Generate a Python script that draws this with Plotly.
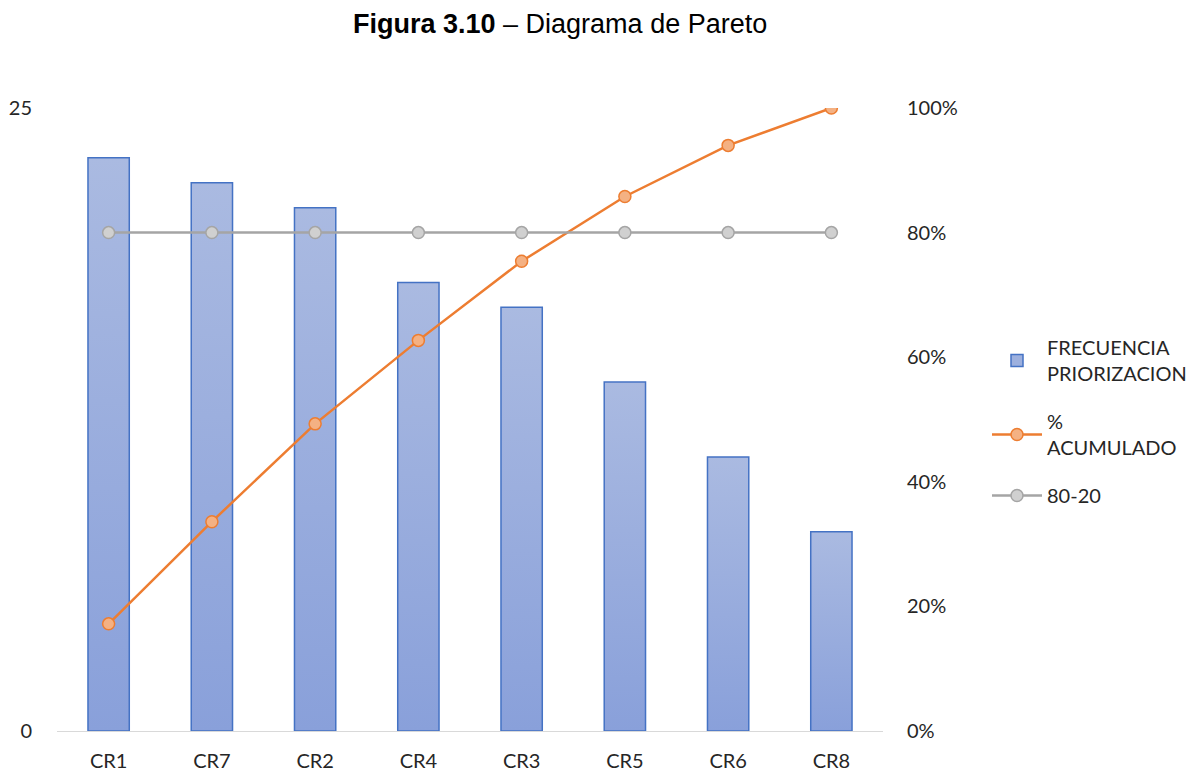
import base64
import plotly.graph_objects as go

# Pareto data
categorias = ["CR1", "CR7", "CR2", "CR4", "CR3", "CR5", "CR6", "CR8"]
frecuencia = [23, 22, 21, 18, 17, 14, 11, 8]
pct_acumulado = [0.172, 0.336, 0.493, 0.627, 0.754, 0.858, 0.940, 1.000]
linea_80_20 = [0.80] * 8

FONT = "Lato, 'Open Sans', sans-serif"
BAR_WIDTH = 0.4
BAR_EDGE = "#4472C4"
W, H = 1203, 775

# vertical gradient used as the bar fill (light at the top, darker at the base)
svg = (
    '<svg xmlns="http://www.w3.org/2000/svg" width="10" height="100" '
    'preserveAspectRatio="none" viewBox="0 0 10 100">'
    '<defs><linearGradient id="g" x1="0" y1="0" x2="0" y2="1">'
    '<stop offset="0" stop-color="#AABAE1"/>'
    '<stop offset="1" stop-color="#89A0DA"/>'
    '</linearGradient></defs>'
    '<rect width="10" height="100" fill="url(#g)"/></svg>'
)
grad_src = "data:image/svg+xml;base64," + base64.b64encode(svg.encode()).decode()

fig = go.Figure()

# bars: outline drawn by the trace, gradient fill by images beneath
fig.add_trace(go.Bar(
    x=categorias, y=frecuencia,
    name="FRECUENCIA<br>PRIORIZACION",
    marker=dict(color="rgba(0,0,0,0)", line=dict(color=BAR_EDGE, width=1.5)),
    width=BAR_WIDTH, yaxis="y", showlegend=False, legendgroup="frec",
))
# legend entry for the bars with a solid swatch
fig.add_trace(go.Bar(
    x=[None], y=[None],
    name="FRECUENCIA<br>PRIORIZACION",
    marker=dict(color="#9DB0DE", line=dict(color=BAR_EDGE, width=1.5)),
    yaxis="y", legendgroup="frec",
))

fig.add_trace(go.Scatter(
    x=categorias, y=pct_acumulado,
    name="%<br>ACUMULADO",
    mode="lines+markers",
    line=dict(color="#ED7D31", width=2.5),
    marker=dict(size=12, color="#F4B183", line=dict(color="#ED7D31", width=1.5)),
    yaxis="y2", legendgroup="acum",
))

fig.add_trace(go.Scatter(
    x=categorias, y=linea_80_20,
    name="80-20",
    mode="lines+markers",
    line=dict(color="#A5A5A5", width=2.5),
    marker=dict(size=12, color="#D0D0D0", line=dict(color="#A5A5A5", width=1.5)),
    yaxis="y2", legendgroup="ref",
))

images = []
for i, v in enumerate(frecuencia):
    images.append(dict(
        source=grad_src, xref="x", yref="y",
        x=i - BAR_WIDTH / 2, y=v, sizex=BAR_WIDTH, sizey=v,
        xanchor="left", yanchor="top", sizing="stretch", layer="below",
    ))

fig.update_layout(
    width=W, height=H,
    paper_bgcolor="white", plot_bgcolor="white",
    margin=dict(l=57, r=320, t=108, b=44, autoexpand=False),
    font=dict(family=FONT, size=20, color="#262626"),
    images=images,
    barmode="overlay",
    xaxis=dict(
        showgrid=False, showline=True, linecolor="#D9D9D9", linewidth=1,
        ticks="outside", ticklen=12, tickcolor="rgba(0,0,0,0)",
        tickfont=dict(size=20), range=[-0.5, 7.5], automargin=False,
    ),
    yaxis=dict(
        range=[0, 25], tickvals=[0, 25], showgrid=True, gridcolor="#D9D9D9",
        zeroline=False, ticks="outside", ticklen=20, tickcolor="rgba(0,0,0,0)",
        tickfont=dict(size=20), automargin=False,
    ),
    yaxis2=dict(
        range=[0, 1], overlaying="y", side="right", tickformat=".0%",
        dtick=0.2, showgrid=False, zeroline=False,
        ticks="outside", ticklen=19, tickcolor="rgba(0,0,0,0)",
        tickfont=dict(size=20), automargin=False,
    ),
    legend=dict(
        x=987 / W, xref="container", y=1 - 328 / H, yref="container",
        xanchor="left", yanchor="top",
        font=dict(size=20),
        tracegroupgap=19,
        itemwidth=50,
        bgcolor="rgba(0,0,0,0)",
    ),
    showlegend=True,
    annotations=[dict(
        text="<b>Figura 3.10</b> – Diagrama de Pareto",
        xref="paper", yref="paper", x=(560 - 57) / 826, y=1,
        yshift=84, xanchor="center", yanchor="middle", showarrow=False,
        font=dict(family="'Liberation Sans', Arial, sans-serif", size=27, color="black"),
    )],
)

fig.write_html("out.html")
